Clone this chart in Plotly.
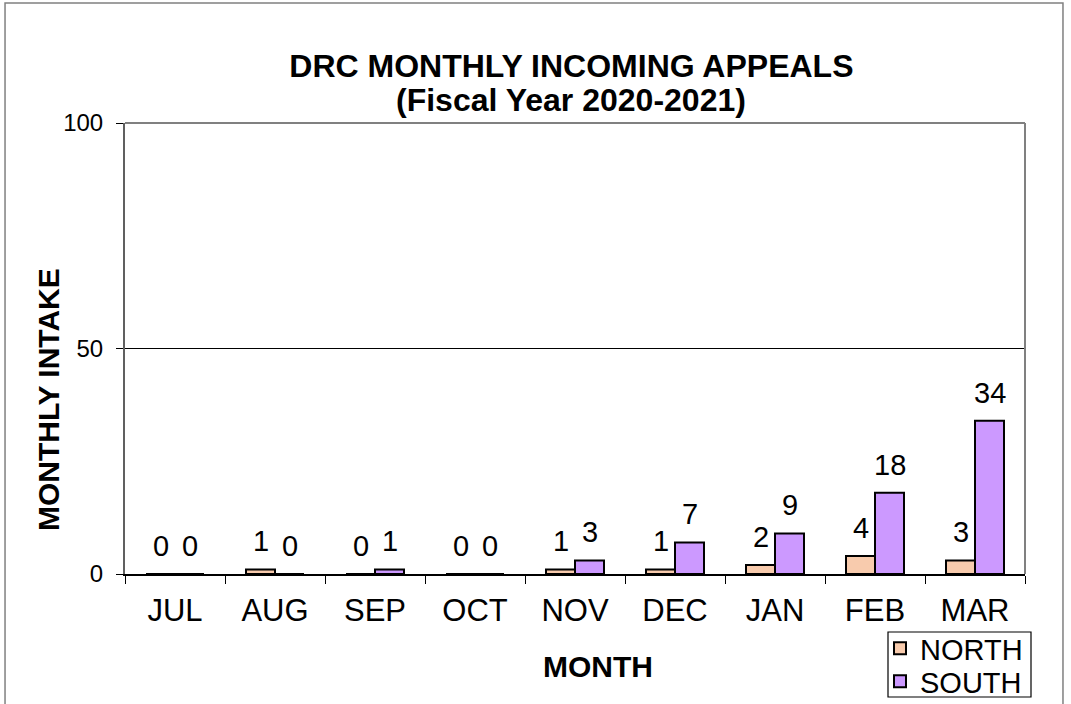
import plotly.graph_objects as go

months = ["JUL", "AUG", "SEP", "OCT", "NOV", "DEC", "JAN", "FEB", "MAR"]
north = [0, 1, 0, 0, 1, 1, 2, 4, 3]
south = [0, 0, 1, 0, 3, 7, 9, 18, 34]
y_ticks = [0, 50, 100]
title_line1 = "DRC MONTHLY INCOMING APPEALS"
title_line2 = "(Fiscal Year 2020-2021)"
x_title = "MONTH"
y_title = "MONTHLY INTAKE"

FONT = "Liberation Sans, Arial, sans-serif"
north_color = "#F8CBAD"
south_color = "#CC99FF"

fig = go.Figure()
fig.add_trace(go.Bar(x=months, y=north, name="NORTH", legend="legend",
                     marker=dict(color=north_color, line=dict(color="black", width=2))))
fig.add_trace(go.Bar(x=months, y=south, name="SOUTH", legend="legend2",
                     marker=dict(color=south_color, line=dict(color="black", width=2))))

annotations = []
for m, n, s in zip(months, north, south):
    for val, shift in ((n, -14.5), (s, 14.5)):
        annotations.append(dict(x=m, y=val, xref="x", yref="y", text=str(val), showarrow=False,
                                xshift=shift, yshift=28, yanchor="middle",
                                font=dict(family=FONT, size=29, color="black")))
# second title line
annotations.append(dict(x=0.496, y=1.051, xref="paper", yref="paper", text="<b>" + title_line2 + "</b>",
                        showarrow=False, xanchor="center", yanchor="middle",
                        font=dict(family=FONT, size=32, color="black")))
# axis titles
annotations.append(dict(x=(598 - 125) / 900, y=(574 - 666) / 451, xref="paper", yref="paper",
                        text="<b>" + x_title + "</b>", showarrow=False, xanchor="center", yanchor="middle",
                        font=dict(family=FONT, size=30, color="black")))
annotations.append(dict(x=(48 - 125) / 900, y=(574 - 400) / 451, xref="paper", yref="paper",
                        text="<b>" + y_title + "</b>", showarrow=False, textangle=-90,
                        xanchor="center", yanchor="middle",
                        font=dict(family=FONT, size=30, color="black")))

legend_common = dict(xanchor="left", yanchor="top", borderwidth=0, bgcolor="rgba(0,0,0,0)",
                     font=dict(family=FONT, size=29, color="black"), itemwidth=30)

fig.update_layout(
    width=1071, height=704,
    margin=dict(l=125, r=46, t=123, b=130, autoexpand=False),
    paper_bgcolor="white", plot_bgcolor="white",
    font=dict(family=FONT, size=22, color="black"),
    barmode="group", bargap=0.42, bargroupgap=0,
    title=dict(text="<b>" + title_line1 + "</b>",
               x=0.496, xref="paper", xanchor="center", y=1 - 66 / 704, yref="container", yanchor="middle",
               font=dict(family=FONT, size=32, color="black")),
    showlegend=True,
    legend=dict(x=(880 - 125) / 900, y=(574 - 623) / 451, **legend_common),
    legend2=dict(x=(880 - 125) / 900, y=(574 - 656) / 451, **legend_common),
    annotations=annotations,
)
fig.update_xaxes(
    showline=True, linecolor="black", linewidth=1.5,
    ticks="outside", tickson="boundaries", ticklen=8, tickcolor="black",
    tickfont=dict(family=FONT, size=31), ticklabelstandoff=8,
    showgrid=False,
)
fig.update_yaxes(
    range=[0, 100], tickvals=y_ticks,
    showline=True, linecolor="#606060", linewidth=2,
    ticks="outside", ticklen=7, tickcolor="black",
    tickfont=dict(family=FONT, size=24),
    ticklabelstandoff=8,
    showgrid=True, gridcolor="black", gridwidth=1,
    zeroline=False,
)
# plot area border (top and right gray)
fig.add_shape(type="line", xref="paper", yref="paper", x0=0, x1=1, y0=1, y1=1,
              line=dict(color="#808080", width=2))
fig.add_shape(type="line", xref="paper", yref="paper", x0=1, x1=1, y0=0, y1=1,
              line=dict(color="#808080", width=2))
# legend box
fig.add_shape(type="rect", xref="paper", yref="paper",
              x0=(888 - 125) / 900, x1=(1031 - 125) / 900, y0=(574 - 697) / 451, y1=(574 - 632) / 451,
              line=dict(color="black", width=1.2), fillcolor="rgba(0,0,0,0)", layer="above")
# outer chart border
fig.add_shape(type="rect", xref="paper", yref="paper", x0=-0.1333, x1=1.0422, y0=-0.32, y1=1.266,
              line=dict(color="#808080", width=1.5), fillcolor="rgba(0,0,0,0)", layer="below")

fig.write_html("out.html", config={"displayModeBar": False},
               post_script="document.body.style.margin='0px';")
